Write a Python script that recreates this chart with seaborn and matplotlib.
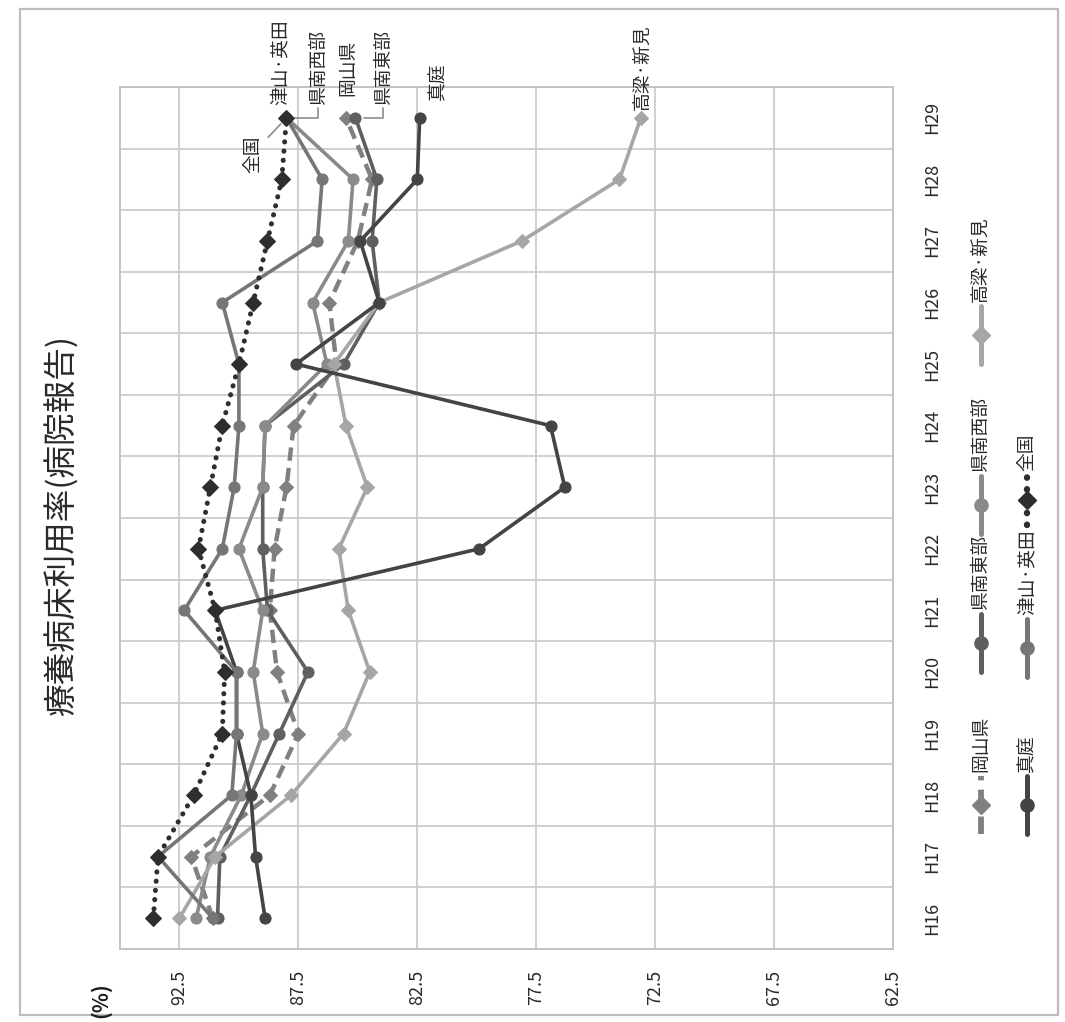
import numpy as np
import pandas as pd
import matplotlib
matplotlib.use("Agg")
import matplotlib.pyplot as plt
import seaborn as sns
from matplotlib.lines import Line2D
from matplotlib.patches import Rectangle

# 療養病床利用率（病院報告） H16〜H29, %
years = ["H16", "H17", "H18", "H19", "H20", "H21", "H22",
         "H23", "H24", "H25", "H26", "H27", "H28", "H29"]
okayama = [91.1, 92.0, 88.7, 87.5, 88.4, 88.7, 88.5, 88.0, 87.7, 85.9, 86.2, 85.0, 84.4, 85.5]
kennan_east = [90.9, 90.8, 89.5, 88.3, 87.1, 88.8, 89.0, 89.0, 88.9, 85.6, 84.1, 84.4, 84.2, 85.1]
kennan_west = [91.8, 91.2, 89.9, 89.0, 89.4, 89.0, 90.0, 89.0, 88.9, 86.3, 86.9, 85.4, 85.2, 88.0]
takahashi_niimi = [92.5, 91.0, 87.8, 85.6, 84.5, 85.4, 85.8, 84.6, 85.5, 86.0, 84.1, 78.1, 74.0, 73.1]
maniwa = [88.9, 89.3, 89.5, 90.1, 90.1, 91.0, 79.9, 76.3, 76.9, 87.6, 84.1, 84.9, 82.5, 82.4]
tsuyama_aida = [91.1, 93.4, 90.3, 90.1, 90.1, 92.3, 90.7, 90.2, 90.0, 90.0, 90.7, 86.7, 86.5, 88.0]
national = [93.6, 93.4, 91.9, 90.7, 90.6, 91.0, 91.7, 91.2, 90.7, 90.0, 89.4, 88.8, 88.2, 88.0]

value_ticks = [62.5, 67.5, 72.5, 77.5, 82.5, 87.5, 92.5]

series = [
    ("岡山県", okayama, dict(color="#808080", linestyle=(0, (3.0, 1.6)), marker="D", markersize=7.5, linewidth=3.2)),
    ("県南東部", kennan_east, dict(color="#5f5f5f", linestyle="-", marker="o", markersize=8, linewidth=2.6)),
    ("県南西部", kennan_west, dict(color="#8a8a8a", linestyle="-", marker="o", markersize=8, linewidth=2.6)),
    ("高梁·新見", takahashi_niimi, dict(color="#a6a6a6", linestyle="-", marker="D", markersize=7.5, linewidth=2.6)),
    ("真庭", maniwa, dict(color="#444444", linestyle="-", marker="o", markersize=8, linewidth=2.6)),
    ("津山·英田", tsuyama_aida, dict(color="#767676", linestyle="-", marker="o", markersize=8, linewidth=2.6)),
    ("全国", national, dict(color="#2e2e2e", linestyle=(0, (0.05, 1.8)), marker="D", markersize=8, linewidth=3.6)),
]

sns.set_theme(style="white")
plt.rcParams["font.family"] = ["Noto Sans CJK JP", "DejaVu Sans"]

W, H = 1065, 1022
fig = plt.figure(figsize=(W / 100, H / 100), dpi=100)
fig.patch.set_facecolor("white")

def fx(px):
    return px / W

def fy(py):
    return 1 - py / H

# plot area: values run right-to-left, years bottom-to-top (page turned sideways)
ax = fig.add_axes([fx(120), fy(949), fx(893) - fx(120), fy(87) - fy(949)])
ax.set_facecolor("white")

idx = np.arange(len(years))
for name, vals, st in series:
    df = pd.DataFrame({"year": idx, "value": vals})
    sns.lineplot(data=df, x="value", y="year", orient="y", ax=ax, errorbar=None,
                 color=st["color"], linestyle=st["linestyle"], linewidth=st["linewidth"],
                 marker=st["marker"], markersize=st["markersize"],
                 markeredgecolor=st["color"], markerfacecolor=st["color"],
                 dash_capstyle="round" if name == "全国" else "butt",
                 legend=False, zorder=3)

ax.set_xlim(95, 62.5)
ax.set_ylim(-0.5, len(years) - 0.5)
ax.set_xticks(value_ticks)
ax.set_xticklabels([f"{v:.1f}" for v in value_ticks])
ax.set_yticks(idx)
ax.set_yticklabels(years)
ax.set_yticks(np.arange(-0.5, len(years)), minor=True)
ax.set_xlabel("")
ax.set_ylabel("")

ax.grid(which="major", axis="x", color="#cdcdcd", linewidth=1.3)
ax.grid(which="minor", axis="y", color="#cdcdcd", linewidth=1.3)
ax.grid(which="major", axis="y", visible=False)
ax.set_axisbelow(True)
for sp in ax.spines.values():
    sp.set_color("#c0c0c0")
    sp.set_linewidth(1.3)

ax.tick_params(axis="x", which="both", length=0, pad=15, labelsize=13,
               labelcolor="#2a2a2a", labelrotation=90)
ax.yaxis.tick_right()
ax.tick_params(axis="y", which="both", length=0, pad=22, labelsize=13,
               labelcolor="#2a2a2a", labelrotation=90)
for lab in ax.get_yticklabels():
    lab.set_va("center")

# end-of-line labels at H29
last = len(years) - 1
lab_style = dict(rotation=90, fontsize=13.5, color="#2a2a2a", ha="center", va="bottom",
                 textcoords="offset pixels", annotation_clip=False)
ax.annotate("津山·英田", xy=(tsuyama_aida[last], last), xytext=(-6, 13), **lab_style)
ax.annotate("県南西部", xy=(kennan_west[last], last), xytext=(32, 13),
            arrowprops=dict(arrowstyle="-", color="#8c8c8c", lw=1.2,
                            connectionstyle="angle,angleA=90,angleB=0,rad=0",
                            shrinkA=0, shrinkB=6), **lab_style)
ax.annotate("岡山県", xy=(okayama[last], last), xytext=(2, 22), **lab_style)
ax.annotate("県南東部", xy=(kennan_east[last], last), xytext=(28, 13),
            arrowprops=dict(arrowstyle="-", color="#8c8c8c", lw=1.2,
                            connectionstyle="angle,angleA=90,angleB=0,rad=0",
                            shrinkA=0, shrinkB=6), **lab_style)
ax.annotate("真庭", xy=(maniwa[last], last), xytext=(18, 18), **lab_style)
ax.annotate("高梁·新見", xy=(takahashi_niimi[last], last), xytext=(2, 8), **lab_style)
ax.annotate("全国", xy=(national[last], last), xytext=(-34, -55), **lab_style,
            arrowprops=dict(arrowstyle="-", color="#8c8c8c", lw=1.2, shrinkA=2, shrinkB=6))

# legend, laid out sideways in two columns
legend_cols = [981, 1027]
legend_rows = [[805, 643, 505, 335], [805, 648, 500]]
order = [("岡山県", 0, 0), ("県南東部", 0, 1), ("県南西部", 0, 2), ("高梁·新見", 0, 3),
         ("真庭", 1, 0), ("津山·英田", 1, 1), ("全国", 1, 2)]
styles = {name: st for name, _, st in series}
for name, c, r in order:
    st = styles[name]
    x = legend_cols[c]
    yc = legend_rows[c][r]
    half = 25 if name == "全国" else 29
    fig.add_artist(Line2D([fx(x), fx(x)], [fy(yc + half), fy(yc - half)],
                          transform=fig.transFigure, color=st["color"],
                          linestyle=st["linestyle"], linewidth=st["linewidth"] + 1.0,
                          dash_capstyle="round" if name == "全国" else "butt"))
    fig.add_artist(Line2D([fx(x)], [fy(yc)], transform=fig.transFigure,
                          marker=st["marker"], markersize=st["markersize"] + 1.5,
                          color=st["color"], linestyle="none"))
    fig.text(fx(x), fy(yc - half - 4), name, rotation=90, ha="center", va="bottom",
             fontsize=13.5, color="#2a2a2a")

# titles
fig.text(fx(62), fy(525), "療養病床利用率(病院報告)", rotation=90, ha="center",
         va="center", fontsize=23.5, color="#2a2a2a")
fig.text(fx(100), fy(1000), "(%)", rotation=90, ha="center", va="center",
         fontsize=15, color="#1e1e1e", fontweight="bold")

# chart frame
fig.add_artist(Rectangle((fx(20), fy(1015)), fx(1058) - fx(20), fy(9) - fy(1015),
                         transform=fig.transFigure, fill=False, edgecolor="#bdbdbd",
                         linewidth=1.6))

fig.savefig("out.png", dpi=100, facecolor="white")
